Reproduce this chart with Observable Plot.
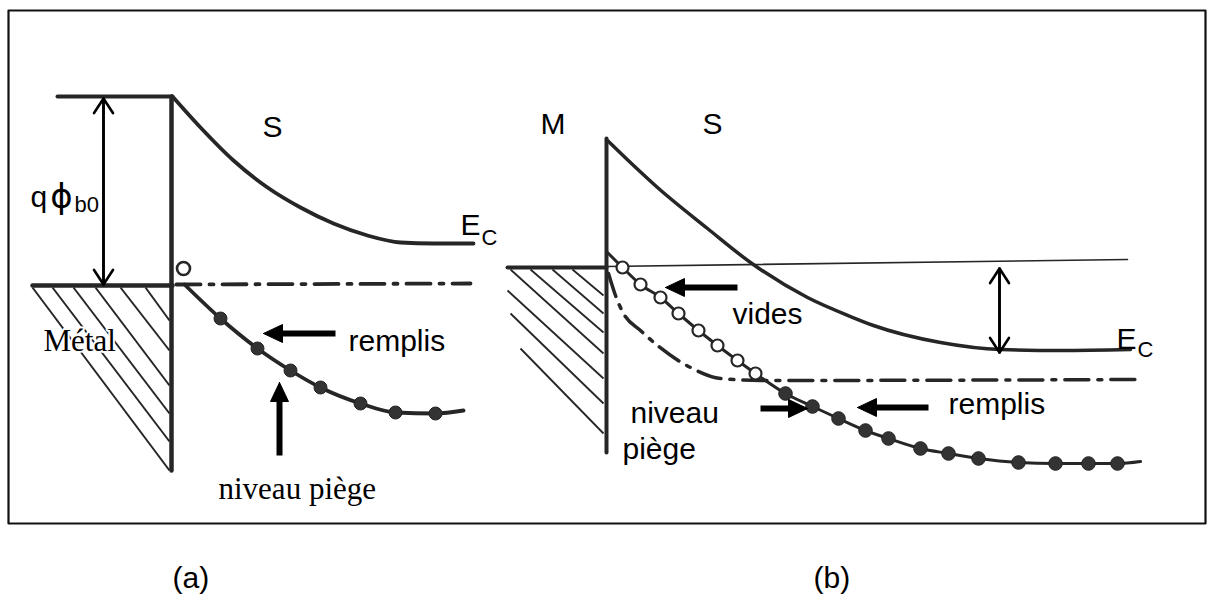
<!DOCTYPE html>
<html>
<head>
<meta charset="utf-8">
<script src="https://cdn.jsdelivr.net/npm/d3@7"></script>
<script src="https://cdn.jsdelivr.net/npm/@observablehq/plot@0.6"></script>
<style>
  html, body { margin: 0; padding: 0; background: #ffffff; }
  #chart svg { display: block; }
</style>
</head>
<body>
<div id="chart"></div>
<script>
// ---------- DATA (schematic coordinates, in figure units) ----------
const frameOutline = [[8,10],[1205,10],[1205,523],[8,523],[8,10]];

// Panel (a)
const aMetalTop      = [[57,96],[172,96]];
const aInterface     = [[171,96],[171,470]];
const aConduction    = [[172,96],[200,127],[233,160],[267,187],[300,207],[333,223],[367,235],[400,242],[433,243],[473,243]];
const aFermiMetal    = [[32,285],[172,285]];
const aFermiSemi     = [[176,284],[470,283]];
const aTrapLine      = [[184,284],[220,318],[257,348],[290,370],[320,387],[360,403],[395,412],[435,413],[463,410]];
const aFilledTraps   = [[220,318],[257,348],[290,370],[320,387],[360,403],[395,412],[435,413]];
const aEmptyTraps    = [[183,268]];
const aHatch = [
  {x1:32,  y1:287, x2:169, y2:470},
  {x1:52,  y1:287, x2:169, y2:441},
  {x1:73,  y1:287, x2:169, y2:413},
  {x1:95,  y1:287, x2:169, y2:385},
  {x1:120, y1:287, x2:169, y2:350},
  {x1:145, y1:287, x2:169, y2:320}
];

// Panel (b)
const bInterface     = [[606,138],[606,452]];
const bConduction    = [[607,140],[632,164],[657,187],[707,228],[750,262],[807,297],[850,316],[873,325],[940,342],[1000,349],[1060,350],[1130,349]];
const bFermiMetal    = [[507,267],[606,267]];
const bFermiSemi     = [[606,266],[1127,259]];
const bTrapLine      = [[607,252],[622,267],[640,284],[660,297],[678,313],[698,330],[717,345],[737,360],[755,373],[785,393],[812,406],[838,418],[865,430],[888,438],[920,448],[948,453],[978,458],[1018,462],[1055,463],[1088,463],[1117,463],[1140,461]];
const bEmptyTraps    = [[622,267],[640,284],[660,297],[678,313],[698,330],[717,345],[737,360],[755,373]];
const bFilledTraps   = [[785,393],[812,406],[838,418],[865,430],[888,438],[920,448],[948,453],[978,458],[1018,462],[1055,463],[1088,463],[1117,463]];
const bTrapLevel     = [[608,273],[615,295],[623,313],[640,330],[657,345],[690,367],[720,378],[760,380],[1140,379]];
const bHatch = [
  {x1:572, y1:269, x2:603, y2:295},
  {x1:552, y1:269, x2:603, y2:313},
  {x1:530, y1:269, x2:603, y2:332},
  {x1:510, y1:269, x2:603, y2:353},
  {x1:507, y1:290, x2:603, y2:378},
  {x1:510, y1:313, x2:603, y2:403},
  {x1:520, y1:348, x2:603, y2:433}
];

// Double-headed thin arrows (barrier height / energy gap)
const doubleArrows = [
  {id:"a", x1:103, y1:98,  x2:103, y2:284},
  {id:"b", x1:999, y1:268, x2:999, y2:352}
];

// Thick pointer arrows (tail -> tip)
const pointerArrows = [
  {id:"a-remplis", x1:335, y1:333, x2:263, y2:333},
  {id:"a-niveau",  x1:279, y1:455, x2:279, y2:382},
  {id:"b-vides",   x1:737, y1:287, x2:665, y2:287},
  {id:"b-remplisL",x1:928, y1:407, x2:857, y2:407},
  {id:"b-remplisR",x1:760, y1:408, x2:807, y2:408}
];

// Labels
const sansLabels = [
  {text:"S",       x:262,  y:136},
  {text:"q",       x:30,   y:206},
  {text:"E",       x:460,  y:234},
  {text:"remplis", x:348,  y:350},
  {text:"M",       x:540,  y:133},
  {text:"S",       x:702,  y:133},
  {text:"vides",   x:732,  y:323},
  {text:"E",       x:1116, y:348},
  {text:"remplis", x:948,  y:413},
  {text:"niveau",  x:630,  y:422},
  {text:"piège",   x:622,  y:458},
  {text:"(a)",     x:172,  y:587},
  {text:"(b)",     x:813,  y:587}
];
const phiLabels = [
  {text:"ϕ", x:61, y:207}
];
const subLabels = [
  {text:"b0", x:74,   y:211},
  {text:"C",  x:481,  y:244},
  {text:"C",  x:1137, y:356}
];
const serifLabels = [
  {text:"Métal",        x:43,  y:350},
  {text:"niveau piège", x:218, y:498}
];

// ---------- helpers ----------
const X = d => d[0], Y = d => d[1];
const HEAD_LEN = 19, HEAD_HALF = 9;
const heads = pointerArrows.flatMap(a => {
  const dx = a.x2 - a.x1, dy = a.y2 - a.y1, L = Math.hypot(dx, dy);
  const ux = dx / L, uy = dy / L, px = -uy, py = ux;
  const bx = a.x2 - ux * HEAD_LEN, by = a.y2 - uy * HEAD_LEN;
  return [
    {id:a.id, x:a.x2, y:a.y2},
    {id:a.id, x:bx + px * HEAD_HALF, y:by + py * HEAD_HALF},
    {id:a.id, x:bx - px * HEAD_HALF, y:by - py * HEAD_HALF},
    {id:a.id, x:a.x2, y:a.y2}
  ];
});
const shafts = pointerArrows.map(a => {
  const dx = a.x2 - a.x1, dy = a.y2 - a.y1, L = Math.hypot(dx, dy);
  return {x1:a.x1, y1:a.y1, x2:a.x2 - dx / L * (HEAD_LEN - 2), y2:a.y2 - dy / L * (HEAD_LEN - 2)};
});
const reversed = doubleArrows.map(a => ({id:a.id, x1:a.x2, y1:a.y2, x2:a.x1, y2:a.y1}));

const INK = "#262626";
const SANS = "'Liberation Sans', Arial, Helvetica, sans-serif";
const SERIF = "'Liberation Serif', 'Times New Roman', serif";
const CURVE = "monotone-x";

const chart = Plot.plot({
  width: 1215,
  height: 601,
  margin: 0,
  x: {domain: [0, 1215], axis: null},
  y: {domain: [601, 0], axis: null},
  style: {background: "#ffffff"},
  marks: [
    // frame
    Plot.line(frameOutline, {x: X, y: Y, stroke: "#111", strokeWidth: 2.2}),

    // ----- panel (a) -----
    Plot.link(aHatch, {x1:"x1", y1:"y1", x2:"x2", y2:"y2", stroke: INK, strokeWidth: 2}),
    Plot.line(aMetalTop,   {x: X, y: Y, stroke: INK, strokeWidth: 4}),
    Plot.line(aInterface,  {x: X, y: Y, stroke: INK, strokeWidth: 4.5}),
    Plot.line(aConduction, {x: X, y: Y, stroke: INK, strokeWidth: 3.8, curve: CURVE}),
    Plot.line(aFermiMetal, {x: X, y: Y, stroke: INK, strokeWidth: 4.5}),
    Plot.line(aFermiSemi,  {x: X, y: Y, stroke: INK, strokeWidth: 3.8, strokeDasharray: "24,9,4,9"}),
    Plot.line(aTrapLine,   {x: X, y: Y, stroke: INK, strokeWidth: 3.8, curve: CURVE}),
    Plot.dot(aFilledTraps, {x: X, y: Y, r: 6.5, fill: "#333", stroke: "#222", strokeWidth: 1}),
    Plot.dot(aEmptyTraps,  {x: X, y: Y, r: 6.5, fill: "#fff", stroke: INK, strokeWidth: 2.6}),

    // ----- panel (b) -----
    Plot.link(bHatch, {x1:"x1", y1:"y1", x2:"x2", y2:"y2", stroke: INK, strokeWidth: 1.8}),
    Plot.line(bFermiMetal, {x: X, y: Y, stroke: INK, strokeWidth: 4}),
    Plot.line(bFermiSemi,  {x: X, y: Y, stroke: INK, strokeWidth: 1.6}),
    Plot.line(bInterface,  {x: X, y: Y, stroke: INK, strokeWidth: 4}),
    Plot.line(bConduction, {x: X, y: Y, stroke: INK, strokeWidth: 3.5, curve: CURVE}),
    Plot.line(bTrapLevel,  {x: X, y: Y, stroke: INK, strokeWidth: 3.5, strokeDasharray: "24,9,4,9", curve: CURVE}),
    Plot.line(bTrapLine,   {x: X, y: Y, stroke: INK, strokeWidth: 3, curve: CURVE}),
    Plot.dot(bFilledTraps, {x: X, y: Y, r: 6.8, fill: "#333", stroke: "#222", strokeWidth: 1}),
    Plot.dot(bEmptyTraps,  {x: X, y: Y, r: 6, fill: "#fff", stroke: INK, strokeWidth: 2.2}),

    // ----- arrows -----
    Plot.arrow(doubleArrows, {x1:"x1", y1:"y1", x2:"x2", y2:"y2", stroke: "#000", strokeWidth: 2.6, headLength: 10, headAngle: 66}),
    Plot.arrow(reversed,     {x1:"x1", y1:"y1", x2:"x2", y2:"y2", stroke: "#000", strokeWidth: 2.6, headLength: 10, headAngle: 66}),
    Plot.link(shafts, {x1:"x1", y1:"y1", x2:"x2", y2:"y2", stroke: "#000", strokeWidth: 6}),
    Plot.line(heads, {x:"x", y:"y", z:"id", fill: "#000", stroke: "#000", strokeWidth: 1}),

    // ----- labels -----
    Plot.text(serifLabels, {x:"x", y:"y", text:"text", textAnchor:"start", lineAnchor:"bottom",
      fontFamily: SERIF, fontSize: 31, fill: "#000", stroke: "#fff", strokeWidth: 4}),
    Plot.text(sansLabels, {x:"x", y:"y", text:"text", textAnchor:"start", lineAnchor:"bottom",
      fontFamily: SANS, fontSize: 30, fill: "#000"}),
    Plot.text(phiLabels, {x:"x", y:"y", text:"text", textAnchor:"middle", lineAnchor:"bottom",
      fontFamily: "'DejaVu Sans', sans-serif", fontSize: 34, fill: "#000"}),
    Plot.text(subLabels, {x:"x", y:"y", text:"text", textAnchor:"start", lineAnchor:"bottom",
      fontFamily: SANS, fontSize: 22, fill: "#000"})
  ]
});
document.getElementById("chart").appendChild(chart);
</script>
</body>
</html>
